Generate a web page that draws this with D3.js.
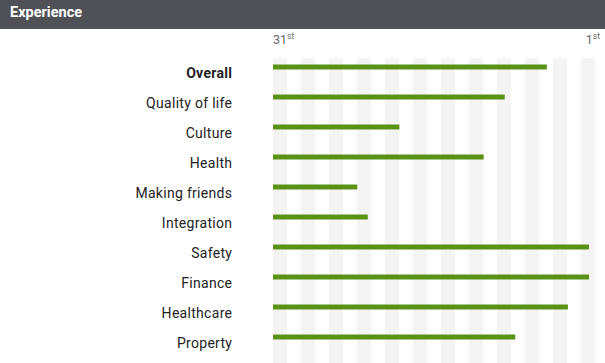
<!DOCTYPE html>
<html><head><meta charset="utf-8">
<script src="https://cdn.jsdelivr.net/npm/d3@7"></script>
<style>
html,body{margin:0;padding:0;background:#fff;}
svg{display:block;}
</style></head>
<body>
<script>
const title = "Experience";
const categories = ["Overall","Quality of life","Culture","Health","Making friends","Integration","Safety","Finance","Healthcare","Property"];
const ranks = [5, 9, 19, 11, 23, 22, 1, 1, 3, 8];
const tickRanks = [31, 1];
const tickSuffix = ["st", "st"];

const W = 605, H = 363;
const svg = d3.select("body").append("svg").attr("width", W).attr("height", H);

// header
svg.append("rect").attr("x",0).attr("y",0).attr("width",W).attr("height",29).attr("fill","#505156");
svg.append("text").attr("x",10).attr("y",17).attr("fill","#fff")
  .attr("font-family","Roboto, 'Liberation Sans', Arial, sans-serif")
  .attr("font-weight","bold").attr("font-size",14.5)
  .text(title);

const x = d3.scaleLinear().domain([31, 1]).range([273, 589]);
const y = d3.scaleBand().domain(categories).range([52, 352]);

// stripes
const stripeIdx = d3.range(12);
svg.append("g").selectAll("rect").data(stripeIdx).join("rect")
  .attr("x", i => 273 + i*28).attr("y", 58).attr("width", 14).attr("height", H-58)
  .attr("fill", "#f4f4f4");

// tick labels
const tg = svg.append("g").attr("font-family","Roboto, 'Liberation Sans', Arial, sans-serif").attr("fill","#6a6a6a");
tickRanks.forEach((r, i) => {
  const t = tg.append("text").attr("y", 44).attr("font-size", 12.5)
    .attr("x", i === 0 ? x(r) : 600).attr("text-anchor", i === 0 ? "start" : "end");
  t.append("tspan").text(r);
  t.append("tspan").attr("font-size", 8.5).attr("dy", -5).text(tickSuffix[i]);
});

// bars
svg.append("g").selectAll("rect").data(categories).join("rect")
  .attr("x", x(31)).attr("y", d => y(d) + y.bandwidth()/2 - 2.5)
  .attr("width", (d,i) => x(ranks[i]) - x(31)).attr("height", 5)
  .attr("fill", "#5a9216");

// labels
svg.append("g").selectAll("text").data(categories).join("text")
  .attr("x", 232.3).attr("y", d => y(d) + y.bandwidth()/2 + 11)
  .attr("text-anchor","end")
  .attr("font-family","Roboto, 'Liberation Sans', Arial, sans-serif")
  .attr("font-size", 14).attr("letter-spacing", "0.3").attr("fill","#222")
  .attr("font-weight", (d,i) => i === 0 ? "bold" : "normal")
  .text(d => d);
</script>
</body></html>
